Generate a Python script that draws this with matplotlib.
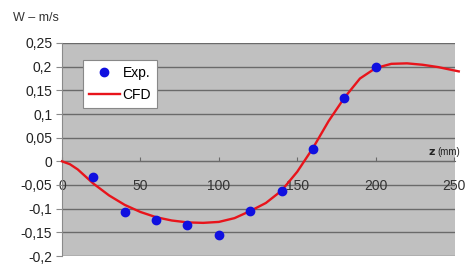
import matplotlib
matplotlib.use("Agg")
import matplotlib.pyplot as plt
from matplotlib.ticker import FuncFormatter

plt.rcParams['font.family'] = ['Liberation Sans', 'DejaVu Sans']

exp_z = [20, 40, 60, 80, 100, 120, 140, 160, 180, 200]
exp_w = [-0.034, -0.106, -0.123, -0.134, -0.156, -0.104, -0.063, 0.026, 0.134, 0.199]

cfd_z = [0, 5, 10, 20, 30, 40, 50, 60, 70, 80, 90, 100, 110, 120, 130, 140, 150,
         160, 170, 180, 190, 200, 210, 220, 230, 240, 253]
cfd_w = [0.0, -0.006, -0.017, -0.047, -0.072, -0.092, -0.107, -0.118, -0.125, -0.129,
         -0.130, -0.128, -0.120, -0.105, -0.088, -0.062, -0.022, 0.028, 0.085, 0.134,
         0.175, 0.197, 0.206, 0.207, 0.204, 0.199, 0.190]

x_ticks = [0, 50, 100, 150, 200, 250]
y_ticks = [-0.2, -0.15, -0.1, -0.05, 0, 0.05, 0.1, 0.15, 0.2, 0.25]

fig = plt.figure(figsize=(4.66, 2.64), dpi=100)
ax = fig.add_axes([62/466, 1-256/264, 393/466, 213/264])
ax.set_facecolor('#c0c0c0')

ax.set_xlim(0, 250.6)
ax.set_ylim(-0.2, 0.25)

for y in y_ticks:
    ax.axhline(y, color='#6a6a6a', lw=1.0, zorder=1)

ax.plot(cfd_z, cfd_w, color='#e8141b', lw=1.7, zorder=3, label='CFD', clip_on=False)
ax.plot(exp_z, exp_w, 'o', color='#1010e0', ms=6, zorder=4, label='Exp.', linestyle='none')

for s in ['top', 'right']:
    ax.spines[s].set_visible(False)
ax.spines['left'].set_color('#8a8a8a')
ax.spines['bottom'].set_position(('data', 0))
ax.spines['bottom'].set_color('#6a6a6a')

ax.set_xticks(x_ticks)
ax.set_yticks(y_ticks)
ax.yaxis.set_major_formatter(FuncFormatter(lambda v, p: ('%g' % round(v, 2)).replace('.', ',')))
ax.tick_params(axis='y', direction='out', length=4, color='#8a8a8a', labelsize=10,
               labelcolor='#222222', pad=3)
ax.tick_params(axis='x', direction='in', length=3, color='#6a6a6a', labelsize=10,
               labelcolor='#333333', pad=13)

ax.text(0.952, 0.49, r'$\mathbf{z}$', transform=ax.transAxes, fontsize=8,
        ha='right', va='center', color='#222222')
ax.text(0.955, 0.49, '(mm)', transform=ax.transAxes, fontsize=7,
        ha='left', va='center', color='#222222')

fig.text(13/466, 1-18/264, 'W – m/s', fontsize=9, ha='left', va='center', color='#333333')

handles, labels = ax.get_legend_handles_labels()
leg = ax.legend([handles[1], handles[0]], [labels[1], labels[0]],
                loc='upper left', bbox_to_anchor=(0.053, 0.92), fancybox=False,
                framealpha=1, edgecolor='#888888', fontsize=10, handlelength=2.2,
                borderpad=0.45, labelspacing=0.55, handletextpad=0.2, borderaxespad=0)
leg.get_frame().set_linewidth(0.8)

fig.savefig('out.png', dpi=100)
